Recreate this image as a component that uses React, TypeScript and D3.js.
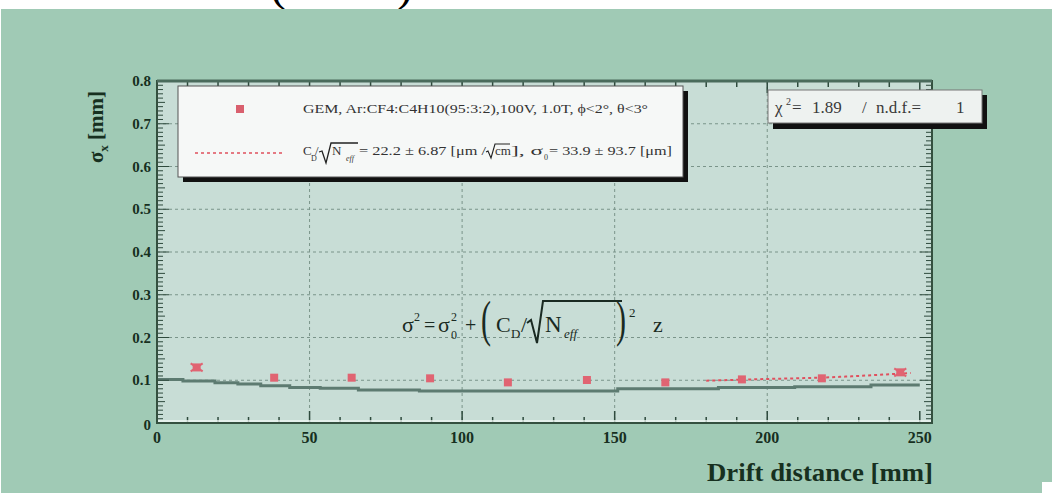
import React from "react";
import * as d3 from "d3";

// ---- data ----
const pointX = [13.0, 38.4, 63.8, 89.5, 115.0, 140.9, 166.6, 191.7, 217.9, 243.6];
const pointY = [0.130, 0.106, 0.106, 0.1045, 0.095, 0.1006, 0.095, 0.102, 0.1045, 0.1185];

const fitX = [180, 200, 217, 247];
const fitY = [0.099, 0.103, 0.106, 0.117];

const stepX = [0, 8.5, 19, 26.5, 34, 43.5, 53.5, 66, 86, 151, 184, 209, 234, 250];
const stepY = [0.102, 0.098, 0.094, 0.091, 0.087, 0.083, 0.081, 0.077, 0.075, 0.080, 0.083, 0.085, 0.089, 0.089];

const xMajorTicks = [0, 50, 100, 150, 200, 250];
const yMajorTicks = [0, 0.1, 0.2, 0.3, 0.4, 0.5, 0.6, 0.7, 0.8];
const yTickLabels = ["0", "0.1", "0.2", "0.3", "0.4", "0.5", "0.6", "0.7", "0.8"];

const xTitle = "Drift distance [mm]";
const legendLabel1 = "GEM, Ar:CF4:C4H10(95:3:2),100V, 1.0T, \u03d5<2\u00b0, \u03b8<3\u00b0";

const SERIF = "'Liberation Serif', 'DejaVu Serif', serif";
const TXT = "#17301f";

export default function App() {
  const x = d3.scaleLinear().domain([0, 254]).range([157, 932]);
  const y = d3.scaleLinear().domain([0, 0.8]).range([423, 81]);
  const [x0, x1] = x.range();
  const [y0, y1] = y.range();

  const xMinor = d3.range(0, 251, 10);
  const yMinor = d3.range(0, 0.8001, 0.01);

  const stepLine = d3
    .line<number>()
    .x((_, i) => x(stepX[i]))
    .y((_, i) => y(stepY[i]))
    .curve(d3.curveStepAfter)(stepY as any);

  const fitLine = d3
    .line<number>()
    .x((_, i) => x(fitX[i]))
    .y((_, i) => y(fitY[i]))
    .curve(d3.curveMonotoneX)(fitY as any);

  return (
    <div style={{ position: "fixed", left: 0, top: 0 }}>
      <svg width={1052} height={493} style={{ display: "block" }}>
        <defs>
          <clipPath id="plotClip">
            <rect x={x0} y={y1} width={x1 - x0} height={y0 - y1} />
          </clipPath>
        </defs>
        <rect x={0} y={0} width={1052} height={493} fill="#ffffff" />
        {/* cut-off parentheses from text above */}
        <text x={270} y={0} fontFamily={SERIF} fontSize={48} fill="#000">(</text>
        <text x={397} y={0} fontFamily={SERIF} fontSize={48} fill="#000">)</text>
        <rect x={1} y={9} width={1051} height={484} fill="#a0cab5" />
        <rect x={1042} y={482} width={10} height={11} fill="#ffffff" />

        {/* plot area */}
        <rect x={x0} y={y1} width={x1 - x0} height={y0 - y1} fill="#c8ddd6" />

        {/* grid */}
        {xMajorTicks.filter((t) => t > 0 && t < 250).map((t) => (
          <line key={"gx" + t} x1={x(t)} x2={x(t)} y1={y1} y2={y0} stroke="#7a948a" strokeWidth={1} strokeDasharray="3,3" />
        ))}
        {yMajorTicks.filter((t) => t > 0 && t < 0.8).map((t) => (
          <line key={"gy" + t} x1={x0} x2={x1} y1={y(t)} y2={y(t)} stroke="#7a948a" strokeWidth={1} strokeDasharray="3,3" />
        ))}

        {/* step curve and fit */}
        <g clipPath="url(#plotClip)">
          <path d={stepLine || ""} fill="none" stroke="#5d7b71" strokeWidth={3} />
          <path d={fitLine || ""} fill="none" stroke="#e0505e" strokeWidth={2} strokeDasharray="3,3" />
        </g>

        {/* data points */}
        {pointX.map((px, i) => (
          <g key={"p" + i}>
            {(i === 0 || i === 9) && (
              <>
                <line x1={x(px) - 6} x2={x(px) + 6} y1={y(pointY[i]) - 4} y2={y(pointY[i]) + 4} stroke="#e06472" strokeWidth={2} />
                <line x1={x(px) - 6} x2={x(px) + 6} y1={y(pointY[i]) + 4} y2={y(pointY[i]) - 4} stroke="#e06472" strokeWidth={2} />
              </>
            )}
            <rect x={x(px) - 4} y={y(pointY[i]) - 4} width={8} height={8} fill="#e06472" />
          </g>
        ))}

        {/* ticks */}
        {xMinor.map((t) => {
          const len = t % 50 === 0 ? 12 : 6;
          return (
            <g key={"tx" + t}>
              <line x1={x(t)} x2={x(t)} y1={y0} y2={y0 - len} stroke="#2e4a3d" strokeWidth={1.5} />
              <line x1={x(t)} x2={x(t)} y1={y1} y2={y1 + len} stroke="#2e4a3d" strokeWidth={1.5} />
            </g>
          );
        })}
        {yMinor.map((t, i) => {
          const len = i % 10 === 0 ? 12 : i % 5 === 0 ? 8 : 6;
          return (
            <g key={"ty" + i}>
              <line x1={x0} x2={x0 + len} y1={y(t)} y2={y(t)} stroke="#2e4a3d" strokeWidth={1} />
              <line x1={x1} x2={x1 - len} y1={y(t)} y2={y(t)} stroke="#2e4a3d" strokeWidth={1} />
            </g>
          );
        })}
        <line x1={x0 + 1} x2={x1 - 1} y1={y0 - 2} y2={y0 - 2} stroke="#eef6f2" strokeWidth={1.5} />
        <rect x={x0} y={y1} width={x1 - x0} height={y0 - y1} fill="none" stroke="#34503f" strokeWidth={2} />
        <line x1={x0} x2={x1} y1={y1} y2={y1} stroke="#4a6b5c" strokeWidth={3} />

        {/* tick labels */}
        {xMajorTicks.map((t) => (
          <text key={"lx" + t} x={x(t)} y={443} textAnchor="middle" fontFamily={SERIF} fontWeight="bold" fontSize={16} fill={TXT}>
            {t}
          </text>
        ))}
        {yMajorTicks.map((t, i) => (
          <text key={"ly" + i} x={151} y={y(t) + 5 + (i === 0 ? 2 : 0)} textAnchor="end" fontFamily={SERIF} fontWeight="bold" fontSize={15} fill={TXT}>
            {yTickLabels[i]}
          </text>
        ))}

        {/* axis titles */}
        <text x={933} y={481} textAnchor="end" fontFamily={SERIF} fontWeight="bold" fontSize={26} fill={TXT} textLength={226} lengthAdjust="spacingAndGlyphs">
          {xTitle}
        </text>
        <text transform="translate(103,127) rotate(-90)" textAnchor="middle" fontFamily={SERIF} fontWeight="bold" fontSize={21} fill={TXT}>
          {"\u03c3"}
          <tspan fontSize={13} dy={5}>x</tspan>
          <tspan dy={-5}>{" [mm]"}</tspan>
        </text>

        {/* legend */}
        <rect x={183} y={91} width={505} height={91} fill="#111" />
        <rect x={178} y={86} width={505} height={91} fill="#f6f8f7" stroke="#555" strokeWidth={1} />
        <rect x={236} y={105} width={8} height={8} fill="#d9606e" />
        <line x1={195} x2={285} y1={153} y2={153} stroke="#e0505e" strokeWidth={1.5} strokeDasharray="3,3" />
        <g fontFamily={SERIF} fill="#333" style={{ whiteSpace: "pre" }}>
          <text x={303} y={113} fontSize={13} textLength={345} lengthAdjust="spacingAndGlyphs">{legendLabel1}</text>
          <text x={303} y={155} fontSize={13}>C</text>
          <text x={311} y={161} fontSize={8}>D</text>
          <text x={315} y={155} fontSize={13}>/</text>
          <path d="M319,152 L322,151 L326,163 L331,143 L358,143" fill="none" stroke="#222" strokeWidth={1.3} />
          <text x={332} y={155} fontSize={13}>N</text>
          <text x={346} y={161} fontSize={8} fontStyle="italic">eff</text>
          <text x={359} y={155} fontSize={13} textLength={127} lengthAdjust="spacingAndGlyphs">{"= 22.2 \u00b1  6.87 [\u03bcm / "}</text>
          <path d="M486,152 L488,151 L491,158 L495,144 L510,144" fill="none" stroke="#222" strokeWidth={1.1} />
          <text x={495} y={155} fontSize={13}>cm</text>
          <text x={511} y={155} fontSize={13} textLength={32} lengthAdjust="spacingAndGlyphs">{"],  \u03c3"}</text>
          <text x={544} y={160} fontSize={8}>0</text>
          <text x={549} y={155} fontSize={13} textLength={123} lengthAdjust="spacingAndGlyphs">{"=  33.9 \u00b1  93.7 [\u03bcm]"}</text>
        </g>

        {/* chi2 box */}
        <rect x={773} y={95} width={214} height={34} fill="#111" />
        <rect x={768} y={90} width={214} height={33} fill="#eef2f0" stroke="#777" strokeWidth={1} />
        <g fontFamily={SERIF} fill="#3a3a3a" fontSize={17}>
          <text x={775} y={113}>{"\u03c7"}</text>
          <text x={786} y={105} fontSize={10}>2</text>
          <text x={792} y={113}>=</text>
          <text x={812} y={113}>1.89</text>
          <text x={862} y={113}>/</text>
          <text x={876} y={113}>n.d.f.=</text>
          <text x={956} y={113}>1</text>
        </g>

        {/* formula */}
        <g fontFamily={SERIF} fill="#1a2a22">
          <text x={402} y={332} fontSize={22}>{"\u03c3"}</text>
          <text x={414} y={321} fontSize={12}>2</text>
          <text x={424} y={332} fontSize={20}>=</text>
          <text x={438} y={332} fontSize={22}>{"\u03c3"}</text>
          <text x={451} y={321} fontSize={12}>2</text>
          <text x={451} y={339} fontSize={12}>0</text>
          <text x={465} y={332} fontSize={20}>+</text>
          <text transform="translate(481,336) scale(0.6,1)" fontSize={50}>(</text>
          <text x={496} y={332} fontSize={22}>C</text>
          <text x={511} y={338} fontSize={13}>D</text>
          <text x={521} y={332} fontSize={22}>/</text>
          <path d="M527,323 L531,320 L537,343 L543,301 L622,301" fill="none" stroke="#1a2a22" strokeWidth={2} />
          <text x={545} y={332} fontSize={23}>N</text>
          <text x={564} y={338} fontSize={13} fontStyle="italic">eff</text>
          <text transform="translate(616,336) scale(0.6,1)" fontSize={50}>)</text>
          <text x={629} y={317} fontSize={13}>2</text>
          <text x={653} y={332} fontSize={22}>z</text>
        </g>
      </svg>
    </div>
  );
}
